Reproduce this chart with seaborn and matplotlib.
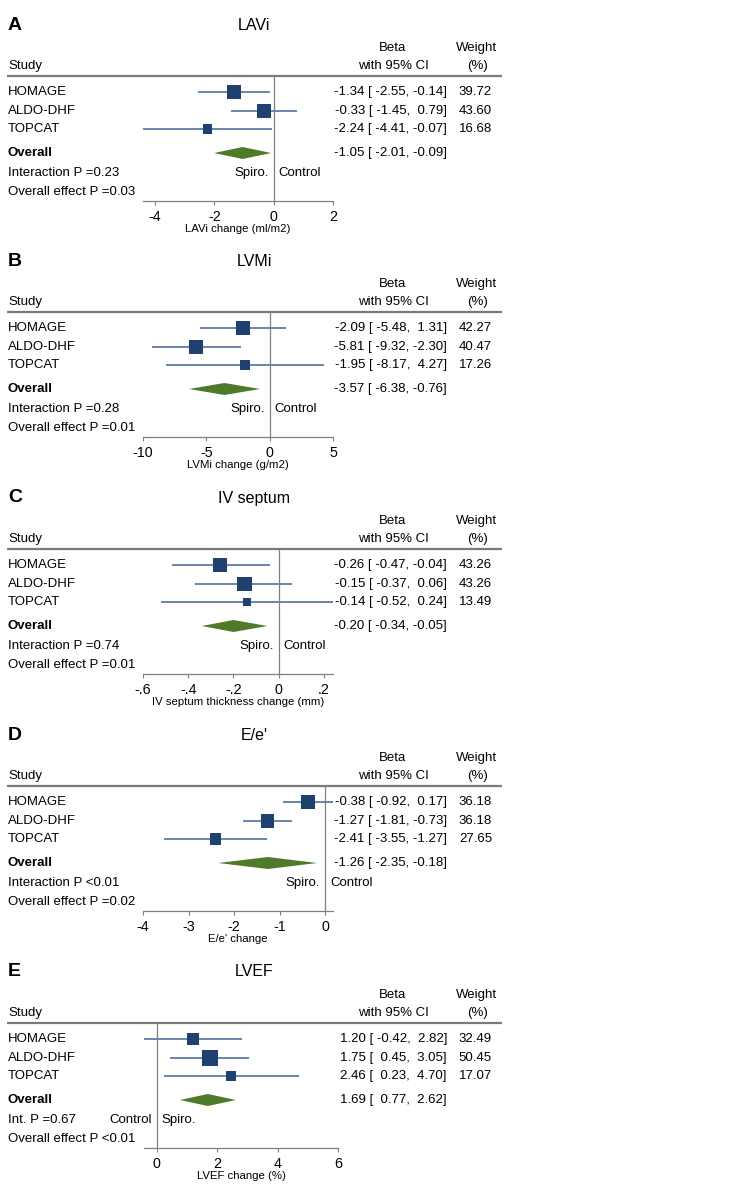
import matplotlib
matplotlib.use("Agg")
import matplotlib.pyplot as plt
import seaborn as sns
import pandas as pd
import numpy as np

sns.set_theme(style="white")
plt.rcParams['font.family'] = ['Liberation Sans', 'DejaVu Sans']
plt.rcParams['text.color'] = 'black'

# ---------------- data ----------------
studies = ["HOMAGE", "ALDO-DHF", "TOPCAT"]
panel_letters = ["A", "B", "C", "D", "E"]
titles = ["LAVi", "LVMi", "IV septum", "E/e'", "LVEF"]
xlabels = ["LAVi change (ml/m2)", "LVMi change (g/m2)", "IV septum thickness change (mm)",
           "E/e' change", "LVEF change (%)"]

beta_A = [-1.34, -0.33, -2.24]; lo_A = [-2.55, -1.45, -4.41]; hi_A = [-0.14, 0.79, -0.07]
w_A = [39.72, 43.60, 16.68]; ov_A = [-1.05, -2.01, -0.09]
beta_B = [-2.09, -5.81, -1.95]; lo_B = [-5.48, -9.32, -8.17]; hi_B = [1.31, -2.30, 4.27]
w_B = [42.27, 40.47, 17.26]; ov_B = [-3.57, -6.38, -0.76]
beta_C = [-0.26, -0.15, -0.14]; lo_C = [-0.47, -0.37, -0.52]; hi_C = [-0.04, 0.06, 0.24]
w_C = [43.26, 43.26, 13.49]; ov_C = [-0.20, -0.34, -0.05]
beta_D = [-0.38, -1.27, -2.41]; lo_D = [-0.92, -1.81, -3.55]; hi_D = [0.17, -0.73, -1.27]
w_D = [36.18, 36.18, 27.65]; ov_D = [-1.26, -2.35, -0.18]
beta_E = [1.20, 1.75, 2.46]; lo_E = [-0.42, 0.45, 0.23]; hi_E = [2.82, 3.05, 4.70]
w_E = [32.49, 50.45, 17.07]; ov_E = [1.69, 0.77, 2.62]

interaction_txt = ["Interaction P =0.23", "Interaction P =0.28", "Interaction P =0.74",
                   "Interaction P <0.01", "Int. P =0.67"]
overall_txt = ["Overall effect P =0.03", "Overall effect P =0.01", "Overall effect P =0.01",
               "Overall effect P =0.02", "Overall effect P <0.01"]
xlims = [(-4.41, 2), (-10, 5), (-0.6, 0.24), (-4, 0.17), (-0.42, 6)]
xticks = [[-4, -2, 0, 2], [-10, -5, 0, 5], [-0.6, -0.4, -0.2, 0, 0.2],
          [-4, -3, -2, -1, 0], [0, 2, 4, 6]]
xticklabels = [["-4", "-2", "0", "2"], ["-10", "-5", "0", "5"], ["-.6", "-.4", "-.2", "0", ".2"],
               ["-4", "-3", "-2", "-1", "0"], ["0", "2", "4", "6"]]
left_side = ["Spiro.", "Spiro.", "Spiro.", "Spiro.", "Control"]
right_side = ["Control", "Control", "Control", "Control", "Spiro."]

panels = [
    (beta_A, lo_A, hi_A, w_A, ov_A),
    (beta_B, lo_B, hi_B, w_B, ov_B),
    (beta_C, lo_C, hi_C, w_C, ov_C),
    (beta_D, lo_D, hi_D, w_D, ov_D),
    (beta_E, lo_E, hi_E, w_E, ov_E),
]

# ---------------- layout (pixels) ----------------
W, H = 754, 1200
header_ys = [76, 312, 549, 786, 1023]
axis_x = [(143, 333), (143, 333), (143, 333), (143, 333), (144, 338)]
row_off = [16, 35, 53]
overall_off = 77
inter_off = 97
oe_off = 116
axis_off = 125

SQUARE = "#1f416f"
CI = "#6a84ab"
DIAMOND = "#4f7a2a"
GRAY = "#808080"
FS = 9.5

fig = plt.figure(figsize=(W / 100, H / 100), dpi=100)
bg = fig.add_axes([0, 0, 1, 1])
bg.set_xlim(0, W)
bg.set_ylim(H, 0)
bg.axis("off")

for i, (beta, lo, hi, w, ov) in enumerate(panels):
    hy = header_ys[i]
    x0, x1 = axis_x[i]
    ay = hy + axis_off
    rows = [hy + r for r in row_off]
    oy = hy + overall_off

    # header texts
    bg.text(8, hy - 51, panel_letters[i], fontsize=14, fontweight="bold", ha="left", va="center")
    bg.text(254, hy - 51, titles[i], fontsize=11.5, ha="center", va="center")
    bg.text(393, hy - 28, "Beta", fontsize=FS, ha="center", va="center")
    bg.text(393, hy - 10, "with 95% CI", fontsize=FS, ha="center", va="center")
    bg.text(477, hy - 28, "Weight", fontsize=FS, ha="center", va="center")
    bg.text(477, hy - 10, "(%)", fontsize=FS, ha="center", va="center")
    bg.text(8, hy - 10, "Study", fontsize=FS, ha="left", va="center")
    bg.plot([7, 502], [hy, hy], color="#7a7a7a", lw=1.6, solid_capstyle="butt")

    # row texts
    for s, y, b, l, h_, ww in zip(studies, rows, beta, lo, hi, w):
        bg.text(8, y, s, fontsize=FS, ha="left", va="center")
        bg.text(447, y, f"{b:.2f} [{l:6.2f},{h_:6.2f}]", fontsize=FS, ha="right", va="center")
        bg.text(492, y, f"{ww:.2f}", fontsize=FS, ha="right", va="center")
    bg.text(8, oy, "Overall", fontsize=FS, fontweight="bold", ha="left", va="center")
    bg.text(447, oy, f"{ov[0]:.2f} [{ov[1]:6.2f},{ov[2]:6.2f}]", fontsize=FS, ha="right", va="center")
    bg.text(8, hy + inter_off, interaction_txt[i], fontsize=FS, ha="left", va="center")
    bg.text(8, hy + oe_off, overall_txt[i], fontsize=FS, ha="left", va="center")

    # plot axes
    ax = fig.add_axes([x0 / W, 1 - ay / H, (x1 - x0) / W, axis_off / H])
    ax.set_xlim(*xlims[i])
    ax.set_ylim(ay, hy)
    for sp in ["top", "right", "left"]:
        ax.spines[sp].set_visible(False)
    ax.spines["bottom"].set_color(GRAY)
    ax.spines["bottom"].set_linewidth(0.9)
    ax.set_yticks([])
    ax.set_xticks(xticks[i])
    ax.set_xticklabels(xticklabels[i])
    ax.tick_params(axis="x", bottom=True, length=3, width=0.8, color=GRAY,
                   labelsize=10.3, pad=3.2, labelcolor="black")
    ax.patch.set_alpha(0)

    ax.axvline(0, color=GRAY, lw=0.9, zorder=1)
    ax.hlines(rows, lo, hi, color=CI, lw=1.4, zorder=2, clip_on=False)
    df = pd.DataFrame({"beta": beta, "y": rows, "w": w})
    sns.scatterplot(data=df, x="beta", y="y", size="w", sizes=(0, 260), size_norm=(0, 100),
                    marker="s", color=SQUARE, linewidth=0, legend=False, ax=ax, zorder=3)
    hh = 6
    ax.fill([ov[1], ov[0], ov[2], ov[0]], [oy, oy - hh, oy, oy + hh],
            color=DIAMOND, lw=0, zorder=3)
    ax.set_xlabel("")
    ax.set_ylabel("")

    # zero x in pixels
    zx = x0 + (0 - xlims[i][0]) / (xlims[i][1] - xlims[i][0]) * (x1 - x0)
    bg.text(zx - 5, hy + inter_off, left_side[i], fontsize=FS, ha="right", va="center")
    bg.text(zx + 5, hy + inter_off, right_side[i], fontsize=FS, ha="left", va="center")

    bg.text((x0 + x1) / 2, hy + 153, xlabels[i], fontsize=8.2, ha="center", va="center")

fig.savefig("out.png", dpi=100, facecolor="white")
